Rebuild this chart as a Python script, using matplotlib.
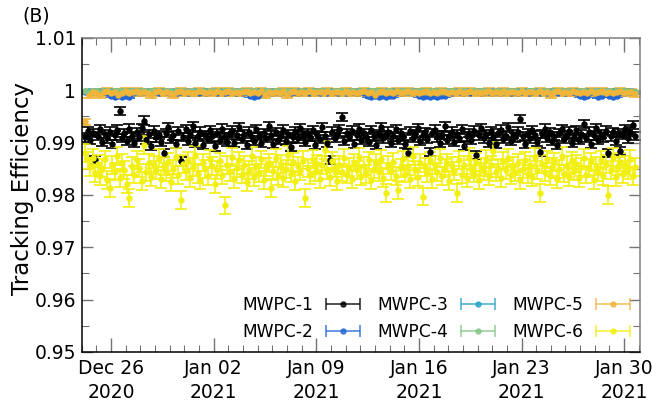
import numpy as np
import pandas as pd
import matplotlib
matplotlib.use("Agg")
import matplotlib.pyplot as plt
import matplotlib.dates as mdates
from matplotlib.container import ErrorbarContainer
from matplotlib.legend_handler import HandlerErrorbar
from matplotlib.ticker import MultipleLocator, FuncFormatter

# MWPC-1 and MWPC-6 are binned every 4 h, the others every 6 h
t0 = "2020-12-24 06:00"

mwpc1 = [0.9910, 0.9922, 0.9905, 0.9918, 0.9867, 0.9913, 0.9926, 0.9901, 0.9916, 0.9908,
         0.9921, 0.9897, 0.9914, 0.9925, 0.9960, 0.9909, 0.9918, 0.9903, 0.9927, 0.9912,
         0.9899, 0.9920, 0.9911, 0.9928, 0.9942, 0.9906, 0.9917, 0.9894, 0.9923, 0.9910,
         0.9915, 0.9902, 0.9880, 0.9919, 0.9929, 0.9907, 0.9914, 0.9898, 0.9922, 0.9864,
         0.9911, 0.9926, 0.9904, 0.9917, 0.9931, 0.9900, 0.9913, 0.9921, 0.9896, 0.9915,
         0.9908, 0.9924, 0.9912, 0.9893, 0.9919, 0.9906, 0.9927, 0.9910, 0.9902, 0.9918,
         0.9923, 0.9899, 0.9914, 0.9930, 0.9907, 0.9916, 0.9895, 0.9921, 0.9911, 0.9904,
         0.9926, 0.9913, 0.9900, 0.9918, 0.9909, 0.9932, 0.9915, 0.9897, 0.9920, 0.9906,
         0.9912, 0.9925, 0.9903, 0.9917, 0.9892, 0.9910, 0.9922, 0.9908, 0.9928, 0.9914,
         0.9901, 0.9919, 0.9911, 0.9924, 0.9896, 0.9915, 0.9907, 0.9929, 0.9912, 0.9899,
         0.9867, 0.9921, 0.9909, 0.9916, 0.9926, 0.9949, 0.9904, 0.9918, 0.9911, 0.9923,
         0.9898, 0.9914, 0.9927, 0.9906, 0.9919, 0.9910, 0.9902, 0.9924, 0.9913, 0.9895,
         0.9917, 0.9929, 0.9908, 0.9915, 0.9921, 0.9900, 0.9912, 0.9926, 0.9905, 0.9918,
         0.9911, 0.9897, 0.9880, 0.9922, 0.9909, 0.9916, 0.9928, 0.9903, 0.9914, 0.9920,
         0.9907, 0.9882, 0.9918, 0.9925, 0.9910, 0.9899, 0.9915, 0.9931, 0.9906, 0.9913,
         0.9921, 0.9902, 0.9917, 0.9909, 0.9926, 0.9894, 0.9912, 0.9919, 0.9905, 0.9923,
         0.9876, 0.9914, 0.9928, 0.9908, 0.9916, 0.9900, 0.9922, 0.9911, 0.9897, 0.9918,
         0.9925, 0.9907, 0.9913, 0.9930, 0.9903, 0.9917, 0.9910, 0.9921, 0.9945, 0.9912,
         0.9898, 0.9919, 0.9908, 0.9924, 0.9914, 0.9901, 0.9882, 0.9916, 0.9927, 0.9909,
         0.9920, 0.9904, 0.9913, 0.9896, 0.9918, 0.9926, 0.9907, 0.9915, 0.9922, 0.9900,
         0.9911, 0.9924, 0.9906, 0.9917, 0.9936, 0.9909, 0.9921, 0.9898, 0.9914, 0.9928,
         0.9905, 0.9916, 0.9910, 0.9923, 0.9880, 0.9912, 0.9920, 0.9903, 0.9918, 0.9884,
         0.9915, 0.9926, 0.9908, 0.9921, 0.9934, 0.9913]

mwpc6 = [0.9880, 0.9866, 0.9854, 0.9871, 0.9842, 0.9860, 0.9836, 0.9851, 0.9868, 0.9829,
         0.9813, 0.9857, 0.9845, 0.9874, 0.9833, 0.9862, 0.9848, 0.9821, 0.9794, 0.9855,
         0.9839, 0.9867, 0.9852, 0.9826, 0.9895, 0.9843, 0.9861, 0.9835, 0.9858, 0.9847,
         0.9870, 0.9831, 0.9856, 0.9844, 0.9863, 0.9824, 0.9850, 0.9872, 0.9838, 0.9791,
         0.9859, 0.9845, 0.9866, 0.9832, 0.9853, 0.9877, 0.9840, 0.9828, 0.9862, 0.9849,
         0.9836, 0.9869, 0.9855, 0.9821, 0.9847, 0.9864, 0.9838, 0.9780, 0.9857, 0.9843,
         0.9872, 0.9830, 0.9851, 0.9866, 0.9839, 0.9858, 0.9825, 0.9848, 0.9874, 0.9835,
         0.9856, 0.9842, 0.9868, 0.9829, 0.9853, 0.9861, 0.9813, 0.9846, 0.9870, 0.9837,
         0.9859, 0.9833, 0.9850, 0.9876, 0.9841, 0.9863, 0.9827, 0.9855, 0.9845, 0.9867,
         0.9794, 0.9852, 0.9838, 0.9869, 0.9844, 0.9860, 0.9831, 0.9857, 0.9886, 0.9848,
         0.9835, 0.9865, 0.9851, 0.9826, 0.9858, 0.9843, 0.9871, 0.9839, 0.9854, 0.9830,
         0.9862, 0.9847, 0.9873, 0.9836, 0.9855, 0.9840, 0.9866, 0.9828, 0.9850, 0.9861,
         0.9844, 0.9869, 0.9833, 0.9804, 0.9857, 0.9845, 0.9863, 0.9837, 0.9810, 0.9852,
         0.9868, 0.9841, 0.9856, 0.9830, 0.9874, 0.9848, 0.9835, 0.9861, 0.9797, 0.9853,
         0.9842, 0.9866, 0.9831, 0.9857, 0.9844, 0.9870, 0.9836, 0.9851, 0.9862, 0.9827,
         0.9855, 0.9846, 0.9804, 0.9867, 0.9839, 0.9858, 0.9833, 0.9872, 0.9849, 0.9841,
         0.9863, 0.9828, 0.9854, 0.9845, 0.9869, 0.9837, 0.9858, 0.9884, 0.9843, 0.9852,
         0.9832, 0.9865, 0.9847, 0.9871, 0.9838, 0.9856, 0.9843, 0.9861, 0.9829, 0.9850,
         0.9866, 0.9840, 0.9857, 0.9834, 0.9872, 0.9847, 0.9804, 0.9859, 0.9844, 0.9868,
         0.9836, 0.9853, 0.9863, 0.9830, 0.9849, 0.9875, 0.9841, 0.9857, 0.9835, 0.9866,
         0.9845, 0.9860, 0.9832, 0.9854, 0.9870, 0.9839, 0.9851, 0.9864, 0.9828, 0.9856,
         0.9843, 0.9867, 0.9836, 0.9859, 0.9800, 0.9848, 0.9872, 0.9834, 0.9855, 0.9863,
         0.9840, 0.9858, 0.9847, 0.9869, 0.9837, 0.9853]

mwpc2 = [0.9996, 0.9995, 0.9996, 0.9996, 0.9995, 0.9996, 0.9995, 0.9989, 0.9988, 0.9990,
         0.9988, 0.9989, 0.9988, 0.9995, 0.9996, 0.9995, 0.9996, 0.9996, 0.9995, 0.9996,
         0.9995, 0.9996, 0.9996, 0.9995, 0.9996, 0.9995, 0.9996, 0.9996, 0.9995, 0.9996,
         0.9996, 0.9995, 0.9996, 0.9995, 0.9996, 0.9996, 0.9995, 0.9996, 0.9995, 0.9996,
         0.9996, 0.9995, 0.9996, 0.9995, 0.9996, 0.9989, 0.9988, 0.9989, 0.9995, 0.9996,
         0.9996, 0.9995, 0.9996, 0.9995, 0.9996, 0.9996, 0.9995, 0.9996, 0.9995, 0.9996,
         0.9996, 0.9995, 0.9996, 0.9996, 0.9995, 0.9996, 0.9995, 0.9996, 0.9996, 0.9995,
         0.9996, 0.9995, 0.9996, 0.9996, 0.9995, 0.9996, 0.9995, 0.9989, 0.9988, 0.9990,
         0.9987, 0.9989, 0.9988, 0.9990, 0.9989, 0.9996, 0.9995, 0.9996, 0.9996, 0.9995,
         0.9996, 0.9989, 0.9988, 0.9990, 0.9987, 0.9989, 0.9988, 0.9990, 0.9989, 0.9996,
         0.9995, 0.9996, 0.9996, 0.9995, 0.9996, 0.9995, 0.9996, 0.9996, 0.9995, 0.9996,
         0.9996, 0.9995, 0.9996, 0.9995, 0.9996, 0.9996, 0.9995, 0.9996, 0.9995, 0.9996,
         0.9996, 0.9995, 0.9996, 0.9996, 0.9995, 0.9996, 0.9995, 0.9996, 0.9996, 0.9995,
         0.9996, 0.9995, 0.9996, 0.9996, 0.9995, 0.9989, 0.9988, 0.9990, 0.9996, 0.9995,
         0.9988, 0.9989, 0.9996, 0.9990, 0.9988, 0.9989, 0.9996, 0.9995, 0.9996, 0.9996,
         0.9995]

mwpc3 = [0.9999, 0.9998, 0.9999, 0.9999, 0.9998, 0.9999, 0.9998, 0.9999, 0.9999, 0.9998,
         0.9999, 0.9999, 0.9998, 0.9999, 0.9998, 0.9999, 0.9999, 0.9998, 0.9999, 0.9999,
         0.9998, 0.9999, 0.9999, 0.9998, 0.9999, 0.9998, 0.9999, 0.9999, 0.9998, 0.9999,
         0.9999, 0.9998, 0.9999, 0.9999, 0.9998, 0.9999, 0.9998, 0.9999, 0.9999, 0.9998,
         0.9999, 0.9999, 0.9998, 0.9999, 0.9998, 0.9999, 0.9999, 0.9998, 0.9999, 0.9999,
         0.9998, 0.9999, 0.9999, 0.9998, 0.9999, 0.9998, 0.9999, 0.9999, 0.9998, 0.9999,
         0.9999, 0.9998, 0.9999, 0.9999, 0.9998, 0.9999, 0.9998, 0.9999, 0.9999, 0.9998,
         0.9999, 0.9999, 0.9998, 0.9999, 0.9998, 0.9999, 0.9999, 0.9998, 0.9999, 0.9999,
         0.9998, 0.9999, 0.9999, 0.9998, 0.9999, 0.9998, 0.9999, 0.9999, 0.9998, 0.9999,
         0.9999, 0.9998, 0.9999, 0.9999, 0.9998, 0.9999, 0.9998, 0.9999, 0.9999, 0.9998,
         0.9999, 0.9999, 0.9998, 0.9999, 0.9998, 0.9999, 0.9999, 0.9998, 0.9999, 0.9999,
         0.9998, 0.9999, 0.9999, 0.9998, 0.9999, 0.9998, 0.9999, 0.9999, 0.9998, 0.9999,
         0.9999, 0.9998, 0.9999, 0.9999, 0.9998, 0.9999, 0.9998, 0.9999, 0.9999, 0.9998,
         0.9999, 0.9999, 0.9998, 0.9999, 0.9998, 0.9999, 0.9999, 0.9998, 0.9999, 0.9999,
         0.9998, 0.9999, 0.9999, 0.9998, 0.9999, 0.9998, 0.9999, 0.9999, 0.9998, 0.9999,
         0.9997]

mwpc4 = [0.9998, 0.9997, 0.9999, 0.9998, 0.9997, 0.9998, 0.9999, 0.9997, 0.9998, 0.9998,
         0.9999, 0.9997, 0.9998, 0.9998, 0.9997, 0.9999, 0.9998, 0.9997, 0.9998, 0.9999,
         0.9998, 0.9997, 0.9998, 0.9999, 0.9997, 0.9998, 0.9998, 0.9999, 0.9997, 0.9998,
         0.9997, 0.9999, 0.9998, 0.9997, 0.9998, 0.9999, 0.9998, 0.9997, 0.9998, 0.9998,
         0.9999, 0.9997, 0.9998, 0.9998, 0.9997, 0.9999, 0.9998, 0.9997, 0.9998, 0.9999,
         0.9998, 0.9997, 0.9998, 0.9999, 0.9997, 0.9998, 0.9998, 0.9999, 0.9997, 0.9998,
         0.9997, 0.9999, 0.9998, 0.9997, 0.9998, 0.9999, 0.9998, 0.9997, 0.9998, 0.9998,
         0.9999, 0.9997, 0.9998, 0.9998, 0.9997, 0.9999, 0.9998, 0.9997, 0.9998, 0.9999,
         0.9998, 0.9997, 0.9998, 0.9999, 0.9997, 0.9998, 0.9998, 0.9999, 0.9997, 0.9998,
         0.9997, 0.9999, 0.9998, 0.9997, 0.9998, 0.9999, 0.9998, 0.9997, 0.9998, 0.9998,
         0.9999, 0.9997, 0.9998, 0.9998, 0.9997, 0.9999, 0.9998, 0.9997, 0.9998, 0.9999,
         0.9998, 0.9997, 0.9998, 0.9999, 0.9997, 0.9998, 0.9998, 0.9999, 0.9997, 0.9998,
         0.9997, 0.9999, 0.9998, 0.9997, 0.9998, 0.9999, 0.9998, 0.9997, 0.9998, 0.9998,
         0.9999, 0.9997, 0.9998, 0.9998, 0.9997, 0.9999, 0.9998, 0.9997, 0.9998, 0.9999,
         0.9998, 0.9997, 0.9998, 0.9999, 0.9997, 0.9998, 0.9998, 0.9999, 0.9997, 0.9998,
         0.9997]

mwpc5 = [0.9940, 0.9992, 0.9997, 0.9995, 0.9991, 0.9996, 0.9998, 0.9995, 0.9997, 0.9991,
         0.9995, 0.9998, 0.9995, 0.9996, 0.9999, 0.9995, 0.9997, 0.9995, 0.9991, 0.9996,
         0.9998, 0.9995, 0.9997, 0.9995, 0.9991, 0.9996, 0.9999, 0.9995, 0.9997, 0.9995,
         0.9995, 0.9998, 0.9996, 0.9995, 0.9997, 0.9995, 0.9999, 0.9995, 0.9996, 0.9998,
         0.9995, 0.9997, 0.9995, 0.9996, 0.9999, 0.9995, 0.9997, 0.9995, 0.9998, 0.9991,
         0.9996, 0.9995, 0.9997, 0.9995, 0.9998, 0.9991, 0.9996, 0.9999, 0.9995, 0.9997,
         0.9995, 0.9998, 0.9995, 0.9996, 0.9997, 0.9995, 0.9999, 0.9995, 0.9997, 0.9996,
         0.9995, 0.9998, 0.9995, 0.9997, 0.9995, 0.9996, 0.9999, 0.9995, 0.9997, 0.9991,
         0.9996, 0.9998, 0.9995, 0.9997, 0.9995, 0.9999, 0.9995, 0.9996, 0.9998, 0.9995,
         0.9997, 0.9995, 0.9996, 0.9999, 0.9995, 0.9997, 0.9995, 0.9998, 0.9996, 0.9995,
         0.9997, 0.9995, 0.9999, 0.9995, 0.9996, 0.9998, 0.9995, 0.9997, 0.9995, 0.9996,
         0.9999, 0.9995, 0.9997, 0.9995, 0.9998, 0.9995, 0.9996, 0.9997, 0.9995, 0.9999,
         0.9995, 0.9997, 0.9996, 0.9995, 0.9998, 0.9995, 0.9997, 0.9991, 0.9996, 0.9999,
         0.9995, 0.9997, 0.9995, 0.9998, 0.9996, 0.9995, 0.9997, 0.9995, 0.9999, 0.9995,
         0.9996, 0.9998, 0.9995, 0.9997, 0.9995, 0.9996, 0.9999, 0.9995, 0.9997, 0.9996,
         0.9993]

# typical statistical uncertainty per chamber
errors = [0.0008, 0.0002, 0.0002, 0.0002, 0.0006, 0.0017]
steps = ["4h", "6h", "6h", "6h", "6h", "4h"]
labels = ["MWPC-1", "MWPC-2", "MWPC-3", "MWPC-4", "MWPC-5", "MWPC-6"]
colors = ["black", "#2166d4", "#22a3c6", "#84c584", "#f0b43a", "#f2ef12"]

series = [mwpc1, mwpc2, mwpc3, mwpc4, mwpc5, mwpc6]

plt.rcParams["font.family"] = "DejaVu Sans"
fig = plt.figure(figsize=(6.52, 4.09), dpi=100)
ax = fig.add_axes([0.1253, 0.1394, 0.8563, 0.7677])

bar_style = dict(fmt="o", markersize=3.6, elinewidth=1.2, capsize=4.0, capthick=1.2)

for vals, err, st, c in zip(series, errors, steps, colors):
    times = pd.date_range(t0, periods=len(vals), freq=st)
    ax.errorbar(times, vals, yerr=err, color=c, ecolor=c, **bar_style)

# proxies so the legend shows horizontal bars with end caps
handles = []
for lab, c in zip(labels, colors):
    h = ax.errorbar([np.nan], [np.nan], xerr=[np.nan], color=c, ecolor=c,
                    alpha=0.8, label=lab, **bar_style)
    handles.append(h)

ax.set_xlim(pd.Timestamp("2020-12-24"), pd.Timestamp("2021-01-31 02:00"))
ax.set_ylim(0.95, 1.01)

ax.xaxis.set_major_locator(mdates.WeekdayLocator(byweekday=mdates.SA))
ax.xaxis.set_minor_locator(mdates.DayLocator())
ax.xaxis.set_major_formatter(mdates.DateFormatter("%b %d\n%Y"))
ax.yaxis.set_major_locator(MultipleLocator(0.01))
ax.yaxis.set_minor_locator(MultipleLocator(0.005))
ax.yaxis.set_major_formatter(FuncFormatter(lambda v, p: f"{v:.2f}".rstrip("0").rstrip(".")))

ax.tick_params(which="both", direction="in", top=True, right=True, color="0.45",
               labelsize=13.5)
ax.tick_params(which="major", length=10, width=1.0)
ax.tick_params(which="minor", length=5, width=0.8)
ax.tick_params(axis="y", which="major", length=8, pad=4)
ax.tick_params(axis="x", which="major", pad=5)
for lab in ax.get_xticklabels():
    lab.set_linespacing(1.35)

for side in ["left", "bottom"]:
    ax.spines[side].set_color("black")
    ax.spines[side].set_linewidth(1.1)
for side in ["top", "right"]:
    ax.spines[side].set_color("0.5")
    ax.spines[side].set_linewidth(1.1)

ax.set_ylabel("Tracking Efficiency", fontsize=16.5)
ax.yaxis.set_label_coords(-0.086, 0.52)

ax.legend(handles=handles, ncol=3, loc="lower right", bbox_to_anchor=(0.982, 0.035),
          markerfirst=False, frameon=False, fontsize=12.3, borderpad=0, borderaxespad=0,
          handlelength=2.0, handletextpad=0.75, columnspacing=1.0, labelspacing=0.55,
          handler_map={ErrorbarContainer: HandlerErrorbar(xerr_size=1.0)})

fig.text(0.035, 0.985, "(B)", fontsize=13.5, va="top", ha="left")

fig.savefig("out.png", dpi=100)
